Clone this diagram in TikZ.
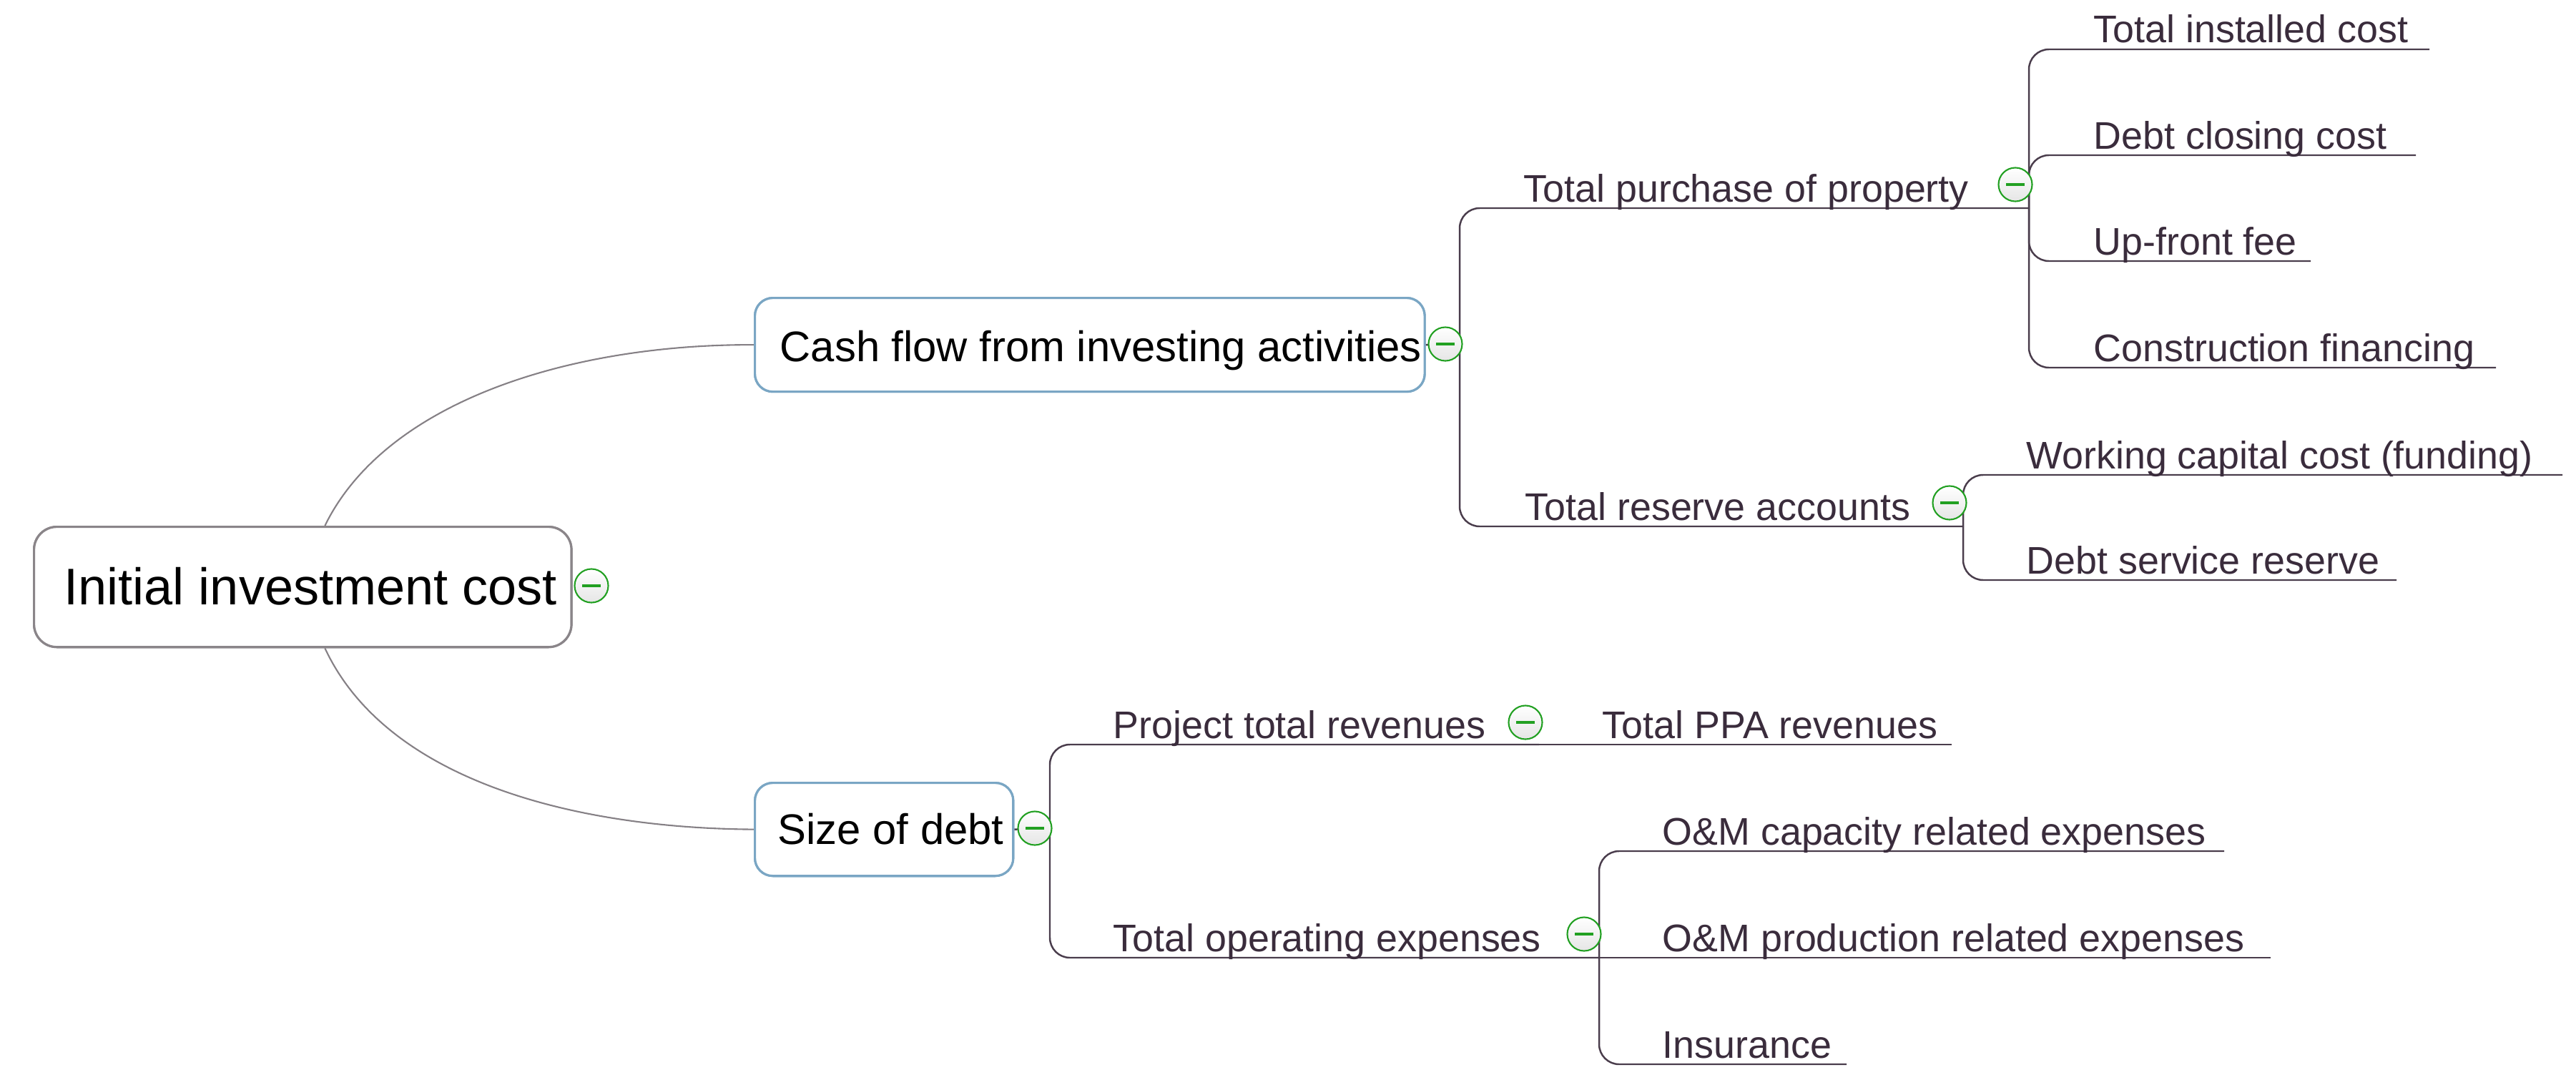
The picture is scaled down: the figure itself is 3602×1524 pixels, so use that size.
\documentclass[tikz,border=0pt]{standalone}
\usepackage{fontspec}
\setmainfont{Liberation Sans}
\definecolor{linecol}{HTML}{4A3D4C}
\definecolor{rootcol}{HTML}{858085}
\definecolor{rootborder}{HTML}{8A8589}
\definecolor{l1border}{HTML}{7AA6C4}
\definecolor{topiccol}{HTML}{3A2C3C}
\definecolor{togglegreen}{HTML}{22A022}
\begin{document}
\begin{tikzpicture}[x=0.01cm, y=-0.01cm,
  conn/.style={draw=linecol, line width=0.7pt, rounded corners=0.28cm},
  rootconn/.style={draw=rootcol, line width=0.6pt},
  rootbox/.style={draw=rootborder, line width=0.9pt, fill=white, rounded corners=0.32cm, inner sep=0pt, anchor=north west},
  lonebox/.style={draw=l1border, line width=0.9pt, fill=white, rounded corners=0.25cm, inner sep=0pt, anchor=north west},
  roottext/.style={font=\fontsize{20.5}{24}\selectfont, text=black, inner sep=0pt, anchor=base west},
  lonetext/.style={font=\fontsize{17}{20}\selectfont, text=black, inner sep=0pt, anchor=base west},
  topic/.style={font=\fontsize{15.3}{18}\selectfont, text=topiccol, inner sep=0pt, anchor=base west},
  toggle/.style={circle, draw=togglegreen, line width=0.6pt, top color=white, middle color=white, bottom color=black!10, minimum size=0.47cm, inner sep=0pt,
    path picture={\draw[togglegreen, line width=1pt] ([xshift=-0.13cm]path picture bounding box.center) -- ([xshift=0.13cm]path picture bounding box.center);}}
]
\useasboundingbox (0,0) rectangle (3602,1524);

% joints and line ends
\coordinate (cfj) at (2041,481);
\coordinate (tpj) at (2837,291);
\coordinate (trj) at (2745,736);
\coordinate (sdj) at (1468,1158);
\coordinate (ptrj) at (2152,1041);
\coordinate (toej) at (2236,1339);
\coordinate (e1) at (3397,69);
\coordinate (e2) at (3378,217);
\coordinate (e3) at (3231,365);
\coordinate (e4) at (3490,514);
\coordinate (e5) at (3583,664);
\coordinate (e6) at (3351,811);
\coordinate (e7) at (2729,1041);
\coordinate (e8) at (3110,1190);
\coordinate (e9) at (3175,1339);
\coordinate (e10) at (2582,1488);

% boxes (named, used as connector ends)
\node[rootbox, minimum width=7.51cm, minimum height=1.68cm] (rootbox) at (46,735) {};
\node[lonebox, minimum width=9.36cm, minimum height=1.31cm] (cfbox) at (1054,415) {};
\node[lonebox, minimum width=3.61cm, minimum height=1.30cm] (sdbox) at (1054,1093) {};

% root curves
\draw[rootconn] ([xshift=0.31cm]rootbox.north) .. controls (540,560) and (800,481) .. (cfbox.west);
\draw[rootconn] ([xshift=0.31cm]rootbox.south) .. controls (540,1090) and (800,1158) .. (sdbox.west);

% level 1 -> level 2
\draw[conn] (cfbox.east) -- (cfj);
\draw[conn] (cfj) |- (tpj);
\draw[conn] (cfj) |- (trj);
\draw[conn] (sdbox.east) -- (sdj);
\draw[conn] (sdj) |- (ptrj);
\draw[conn] (sdj) |- (toej);

% level 2 -> level 3
\draw[conn] (tpj) |- (e1);
\draw[conn] (tpj) |- (e2);
\draw[conn] (tpj) |- (e3);
\draw[conn] (tpj) |- (e4);
\draw[conn] (trj) |- (e5);
\draw[conn] (trj) |- (e6);
\draw[conn] (ptrj) -- (e7);
\draw[conn] (toej) |- (e8);
\draw[conn] (toej) -- (e9);
\draw[conn] (toej) |- (e10);

% redraw boxes over the curve ends
\node[rootbox, minimum width=7.51cm, minimum height=1.68cm] (rootboxb) at (46,735) {};
\node[lonebox, minimum width=9.36cm, minimum height=1.31cm] (cfboxb) at (1054,415) {};
\node[lonebox, minimum width=3.61cm, minimum height=1.30cm] (sdboxb) at (1054,1093) {};

% texts
\node[roottext] (root) at (89,845) {Initial investment cost};
\node[lonetext] (cf) at (1090,505) {Cash flow from investing activities};
\node[lonetext] (sd) at (1087,1180) {Size of debt};

\node[topic] (tp) at (2130,282) {Total purchase of property};
\node[topic] (tr) at (2132,727) {Total reserve accounts};
\node[topic] (t1) at (2927,60) {Total installed cost};
\node[topic] (t2) at (2927,208) {Debt closing cost};
\node[topic] (t3) at (2927,356) {Up-front fee};
\node[topic] (t4) at (2927,505) {Construction financing};
\node[topic] (t5) at (2833,655) {Working capital cost (funding)};
\node[topic] (t6) at (2833,802) {Debt service reserve};
\node[topic] (ptr) at (1556,1032) {Project total revenues};
\node[topic] (toe) at (1556,1330) {Total operating expenses};
\node[topic] (t7) at (2240,1032) {Total PPA revenues};
\node[topic] (t8) at (2324,1181) {O\&M capacity related expenses};
\node[topic] (t9) at (2324,1330) {O\&M production related expenses};
\node[topic] (t10) at (2324,1479) {Insurance};

% toggles
\node[toggle] (g0) at (827,819) {};
\node[toggle] (g1) at (2021,481) {};
\node[toggle] (g2) at (1447,1158) {};
\node[toggle] (g3) at (2818,258) {};
\node[toggle] (g4) at (2726,703) {};
\node[toggle] (g5) at (2133,1010) {};
\node[toggle] (g6) at (2215,1306) {};
\end{tikzpicture}
\end{document}
